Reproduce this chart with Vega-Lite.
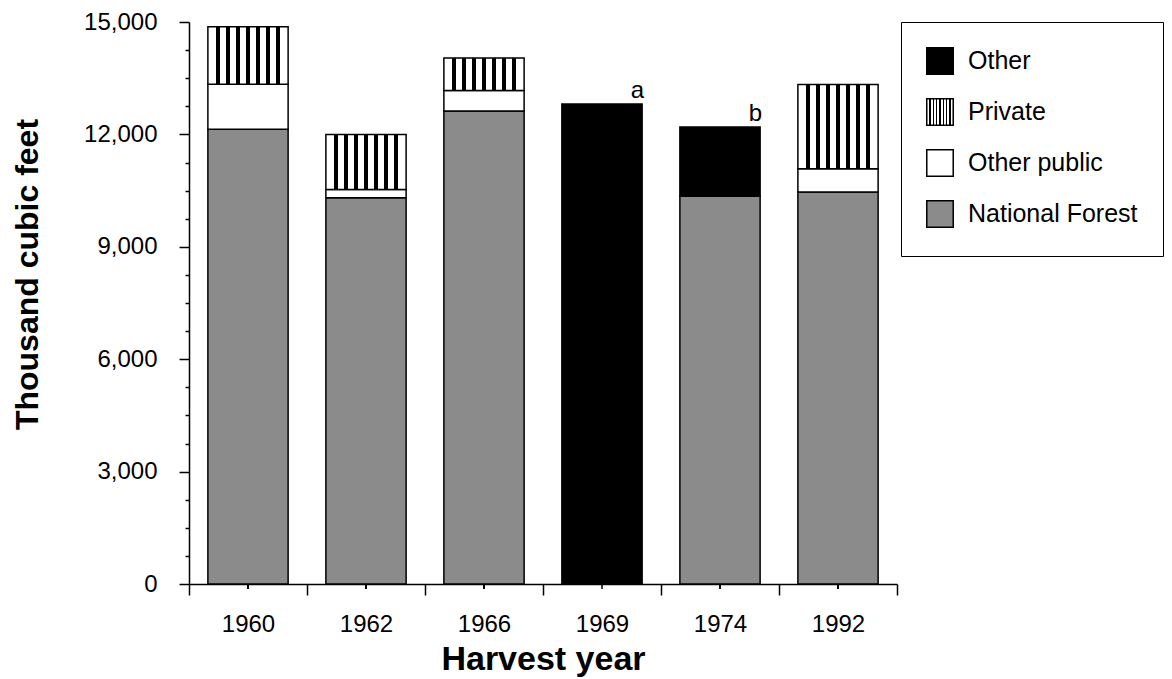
{
  "$schema": "https://vega.github.io/schema/vega-lite/v6.json",
  "width": 708,
  "height": 562,
  "autosize": {"type": "none"},
  "padding": {"left": 189, "top": 22, "right": 275, "bottom": 95},
  "background": "white",
  "config": {
    "view": {"stroke": null},
    "font": "Liberation Sans",
    "axis": {
      "domainColor": "black",
      "tickColor": "black",
      "labelColor": "black",
      "titleColor": "black",
      "grid": false,
      "domainWidth": 1.5,
      "tickWidth": 1.5,
      "labelFont": "Liberation Sans",
      "titleFont": "Liberation Sans"
    },
    "legend": {"labelFont": "Liberation Sans"}
  },
  "datasets": {
    "bars": [
      {"year": "1960", "category": "National Forest", "rank": 1, "value": 12140},
      {"year": "1960", "category": "Other public", "rank": 2, "value": 1200},
      {"year": "1960", "category": "Private", "rank": 3, "value": 1530},
      {"year": "1962", "category": "National Forest", "rank": 1, "value": 10310},
      {"year": "1962", "category": "Other public", "rank": 2, "value": 220},
      {"year": "1962", "category": "Private", "rank": 3, "value": 1470},
      {"year": "1966", "category": "National Forest", "rank": 1, "value": 12625},
      {"year": "1966", "category": "Other public", "rank": 2, "value": 550},
      {"year": "1966", "category": "Private", "rank": 3, "value": 865},
      {"year": "1969", "category": "Other", "rank": 4, "value": 12810},
      {"year": "1974", "category": "National Forest", "rank": 1, "value": 10350},
      {"year": "1974", "category": "Other", "rank": 4, "value": 1850},
      {"year": "1992", "category": "National Forest", "rank": 1, "value": 10460},
      {"year": "1992", "category": "Other public", "rank": 2, "value": 625},
      {"year": "1992", "category": "Private", "rank": 3, "value": 2245}
    ],
    "notes": [
      {"year": "1969", "label": "a", "value": 12810},
      {"year": "1974", "label": "b", "value": 12200}
    ]
  },
  "encoding": {
    "x": {
      "field": "year",
      "type": "nominal",
      "scale": {"paddingInner": 0, "paddingOuter": 0},
      "axis": {
        "orient": "bottom",
        "title": "Harvest year",
        "titleFontSize": 34,
        "titleFontWeight": "bold",
        "titlePadding": 6,
        "labelAngle": 0,
        "labelFontSize": 24,
        "labelPadding": 17,
        "tickBand": "extent",
        "tickSize": 11
      }
    },
    "y": {
      "field": "value",
      "type": "quantitative",
      "scale": {"domain": [0, 15000], "nice": false},
      "axis": {
        "title": "Thousand cubic feet",
        "titleFontSize": 32,
        "titleFontWeight": "bold",
        "titleAngle": -90,
        "titleAlign": "center",
        "titleBaseline": "alphabetic",
        "titleX": -152,
        "titleY": 252,
        "values": [0, 750, 1500, 2250, 3000, 3750, 4500, 5250, 6000, 6750, 7500, 8250, 9000, 9750, 10500, 11250, 12000, 12750, 13500, 14250, 15000],
        "labelExpr": "datum.value % 3000 === 0 ? format(datum.value, ',') : ''",
        "labelOverlap": false,
        "labelFontSize": 24,
        "labelPadding": 22,
        "tickSize": {"condition": {"test": "datum.value % 3000 === 0", "value": 10}, "value": 4}
      }
    }
  },
  "layer": [
    {
      "data": {"name": "bars"},
      "mark": {"type": "bar", "stroke": "black", "strokeWidth": 1.5, "width": {"band": 0.68}},
      "encoding": {
        "color": {
          "field": "category",
          "type": "nominal",
          "scale": {
            "domain": ["Other", "Private", "Other public", "National Forest"],
            "range": [
              "#000000",
              {"expr": "{'gradient':'linear','x1':0,'y1':0,'x2':1,'y2':0,'stops':[{'offset':0,'color':'#ffffff'},{'offset':0.103,'color':'#ffffff'},{'offset':0.103,'color':'#000000'},{'offset':0.147,'color':'#000000'},{'offset':0.147,'color':'#ffffff'},{'offset':0.228,'color':'#ffffff'},{'offset':0.228,'color':'#000000'},{'offset':0.272,'color':'#000000'},{'offset':0.272,'color':'#ffffff'},{'offset':0.353,'color':'#ffffff'},{'offset':0.353,'color':'#000000'},{'offset':0.397,'color':'#000000'},{'offset':0.397,'color':'#ffffff'},{'offset':0.478,'color':'#ffffff'},{'offset':0.478,'color':'#000000'},{'offset':0.522,'color':'#000000'},{'offset':0.522,'color':'#ffffff'},{'offset':0.603,'color':'#ffffff'},{'offset':0.603,'color':'#000000'},{'offset':0.647,'color':'#000000'},{'offset':0.647,'color':'#ffffff'},{'offset':0.728,'color':'#ffffff'},{'offset':0.728,'color':'#000000'},{'offset':0.772,'color':'#000000'},{'offset':0.772,'color':'#ffffff'},{'offset':0.853,'color':'#ffffff'},{'offset':0.853,'color':'#000000'},{'offset':0.897,'color':'#000000'},{'offset':0.897,'color':'#ffffff'},{'offset':1,'color':'#ffffff'}]}"},
              "#ffffff",
              "#8b8b8b"
            ]
          },
          "legend": {
            "orient": "none",
            "legendX": 712,
            "legendY": 0,
            "title": null,
            "strokeColor": "black",
            "padding": 25,
            "labelFontSize": 25,
            "labelColor": "black",
            "labelOffset": 14,
            "labelLimit": 400,
            "labelExpr": "datum.label + '\\u00a0\\u00a0\\u00a0'",
            "rowPadding": 17,
            "symbolType": "square",
            "symbolSize": 700,
            "symbolStrokeColor": "black",
            "symbolStrokeWidth": 1.5,
            "symbolOpacity": 1
          }
        },
        "order": {"field": "rank", "type": "quantitative", "sort": "ascending"}
      }
    },
    {
      "data": {"name": "bars"},
      "mark": {"type": "tick", "orient": "vertical", "size": 5, "thickness": 1.5, "color": "black", "opacity": 1, "yOffset": 2.5},
      "encoding": {
        "y": {"datum": 0}
      }
    },
    {
      "data": {"name": "notes"},
      "mark": {"type": "text", "fontSize": 24, "baseline": "alphabetic", "dy": -6, "color": "black", "font": "Liberation Sans"},
      "encoding": {
        "x": {"field": "year", "type": "nominal", "bandPosition": 0.8},
        "text": {"field": "label"}
      }
    }
  ]
}
